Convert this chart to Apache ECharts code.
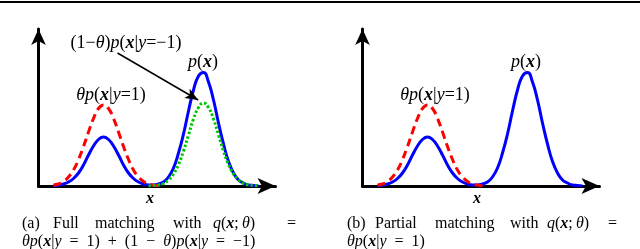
<!DOCTYPE html>
<html><head><meta charset="utf-8">
<script src="https://cdn.jsdelivr.net/npm/echarts@6/dist/echarts.min.js"></script>
<style>html,body{margin:0;padding:0;background:#fff}#c{width:640px;height:249px}</style>
</head><body><div id="c"></div>
<script>
// ---- data ----
const blueX = [1.5,2.0,2.5,3.0,3.5,4.0,4.5,5.0,5.5,6.0,6.5,7.0,7.5,8.0,8.5,9.0,9.5,10.0,10.5,11.0,11.5,12.0,12.5,13.0,13.5,14.0,14.5,15.0,15.5,16.0,16.5,17.0,17.5,18.0,18.5,19.0,19.5,20.0,20.5,21.0,21.5,22.0];
const blueY = [0.00,0.01,0.02,0.04,0.075,0.13,0.21,0.31,0.40,0.465,0.49,0.465,0.40,0.31,0.21,0.13,0.075,0.04,0.02,0.01,0.01,0.02,0.04,0.09,0.18,0.33,0.52,0.75,0.96,1.10,1.135,1.04,0.86,0.63,0.42,0.245,0.13,0.06,0.03,0.01,0.005,0.00];
const redX = [1.5,2.0,2.5,3.0,3.5,4.0,4.5,5.0,5.5,6.0,6.5,7.0,7.5,8.0,8.5,9.0,9.5,10.0,10.5,11.0,11.5,12.0];
const redY = [0.01,0.02,0.045,0.09,0.16,0.265,0.395,0.54,0.675,0.775,0.81,0.775,0.675,0.54,0.395,0.265,0.16,0.09,0.045,0.02,0.01,0.00];
const greenX = [11.0,11.5,12.0,12.5,13.0,13.5,14.0,14.5,15.0,15.5,16.0,16.5,17.0,17.5,18.0,18.5,19.0,19.5,20.0,20.5,21.0,21.5,22.0];
const greenY = [0.00,0.005,0.01,0.025,0.06,0.12,0.215,0.35,0.51,0.67,0.785,0.83,0.785,0.67,0.51,0.35,0.215,0.12,0.06,0.025,0.01,0.005,0.00];
const arrowStart = [7.9, 1.33];
const arrowEnd = [15.97, 0.86];
const xMax = 23.7, yMax = 1.57;

const pairs = (xs, ys) => xs.map((x, i) => [x, ys[i]]);
const FF = '"Liberation Serif", serif';

const rich = (fs) => ({
  i: {fontFamily: FF, fontSize: fs, fontStyle: 'italic'},
  b: {fontFamily: FF, fontSize: fs, fontStyle: 'italic', fontWeight: 'bold'},
  n: {fontFamily: FF, fontSize: fs}
});
function txt(x, y, s, fs, align) {
  return {type: 'text', x: x, y: y, silent: true, style: {
    text: s, fontFamily: FF, fontSize: fs, fill: '#000',
    textAlign: align || 'left', textVerticalAlign: 'middle', rich: rich(fs)}};
}

function axes(idx) {
  const line = {color: '#000', width: 3};
  return {
    x: {type: 'value', gridIndex: idx, min: 0, max: xMax,
      axisLine: {show: true, symbol: ['none', 'arrow'], symbolSize: [12, 18], lineStyle: line},
      axisTick: {show: false}, axisLabel: {show: false}, splitLine: {show: false}},
    y: {type: 'value', gridIndex: idx, min: 0, max: yMax,
      axisLine: {show: true, symbol: ['none', 'arrow'], symbolSize: [11, 16], lineStyle: line},
      axisTick: {show: false}, axisLabel: {show: false}, splitLine: {show: false}}
  };
}
const a0 = axes(0), a1 = axes(1);

const blueStyle = {color: '#0000ff', width: 3};
const redStyle = {color: '#ff0000', width: 3, type: [8, 5]};
const greenStyle = {color: '#00c800', width: 3, type: [2.5, 2]};

const sp = '\u2002';
const chart = echarts.init(document.getElementById('c'), null, {renderer: 'canvas'});
chart.setOption({
  animation: false,
  backgroundColor: '#fff',
  grid: [
    {left: 38.5, top: 29, width: 237, height: 157},
    {left: 362.5, top: 29, width: 237, height: 157}
  ],
  xAxis: [a0.x, a1.x],
  yAxis: [a0.y, a1.y],
  series: [
    {type: 'line', xAxisIndex: 0, yAxisIndex: 0, data: pairs(blueX, blueY), smooth: true, showSymbol: false, lineStyle: blueStyle, z: 2},
    {type: 'line', xAxisIndex: 0, yAxisIndex: 0, data: pairs(redX, redY), smooth: true, showSymbol: false, lineStyle: redStyle, z: 3},
    {type: 'line', xAxisIndex: 0, yAxisIndex: 0, data: pairs(greenX, greenY), smooth: true, showSymbol: false, lineStyle: greenStyle, z: 3,
      markLine: {silent: true, symbol: ['none', 'arrow'], symbolSize: [8, 13], label: {show: false},
        lineStyle: {color: '#000', width: 1.5, type: 'solid'},
        emphasis: {disabled: true},
        data: [[{coord: arrowStart}, {coord: arrowEnd}]]}},
    {type: 'line', xAxisIndex: 1, yAxisIndex: 1, data: pairs(blueX, blueY), smooth: true, showSymbol: false, lineStyle: blueStyle, z: 2},
    {type: 'line', xAxisIndex: 1, yAxisIndex: 1, data: pairs(redX, redY), smooth: true, showSymbol: false, lineStyle: redStyle, z: 3}
  ],
  graphic: [
    {type: 'line', silent: true, shape: {x1: 0, y1: 2, x2: 640, y2: 2}, style: {stroke: '#000', lineWidth: 2}},
    // in-plot labels (left)
    txt(111, 95, '{i|θp}({b|x}|{i|y}=1)', 18, 'center'),
    txt(203, 62, '{i|p}({b|x})', 18, 'center'),
    txt(126, 43, '(1−{i|θ}){i|p}({b|x}|{i|y}=−1)', 18, 'center'),
    // in-plot labels (right)
    txt(435, 95, '{i|θp}({b|x}|{i|y}=1)', 18, 'center'),
    txt(526, 62, '{i|p}({b|x})', 18, 'center'),
    // axis names
    txt(150, 199, '{b|x}', 16, 'center'),
    txt(477, 199, '{b|x}', 16, 'center'),
    // caption (a)
    txt(22, 224, '(a)', 16), txt(53, 224, 'Full', 16), txt(95, 224, 'matching', 16),
    txt(173, 224, 'with', 16), txt(213, 224, '{i|q}({b|x};\u2009{i|θ})', 16), txt(287, 224, '=', 16),
    txt(22, 242, '{i|θp}({b|x}|{i|y}' + sp + '=' + sp + '1)' + sp + '+' + sp + '(1' + sp + '−' + sp + '{i|θ}){i|p}({b|x}|{i|y}' + sp + '=' + sp + '−1)', 16),
    // caption (b)
    txt(347, 224, '(b)', 16), txt(375, 224, 'Partial', 16), txt(435, 224, 'matching', 16),
    txt(510, 224, 'with', 16), txt(547, 224, '{i|q}({b|x};\u2009{i|θ})', 16), txt(608, 224, '=', 16),
    txt(347, 242, '{i|θp}({b|x}|{i|y}' + sp + '=' + sp + '1)', 16)
  ]
});
</script>
</body></html>
